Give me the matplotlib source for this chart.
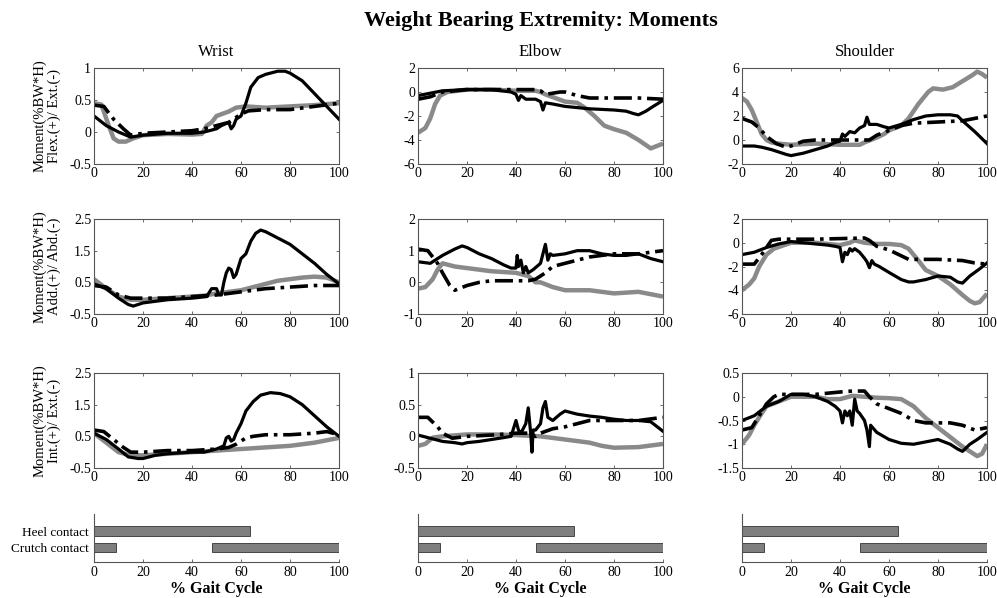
"""
Weight bearing extremity moments: 3x3 grid of moment curves over the gait cycle
plus heel / crutch contact bars underneath each column.
"""

import numpy as np
import matplotlib
matplotlib.use("Agg")
import matplotlib.pyplot as plt

plt.rcParams["font.family"] = ["Liberation Serif", "DejaVu Serif"]

# ── Data (x = % gait cycle, y = moment %BW*H) ────────────────────────────────

# Row 1: Flex.(+)/Ext.(-)
wrist_fe_gray = [(0, .45), (3, .43), (6, .1), (8, -.1), (10, -.15), (13, -.15), (16, -.1),
                 (20, -.05), (30, -.03), (40, -.04), (44, -.03), (46, .1), (48, .15), (50, .25),
                 (55, .32), (58, .38), (62, .4), (70, .38), (80, .4), (90, .42), (100, .45)]
wrist_fe_solid = [(0, .25), (5, .1), (10, 0), (15, -.08), (20, -.05), (30, -.02), (40, -.02),
                  (45, 0), (50, .05), (52, .1), (55, .15), (56, .05), (57, .1), (58, .2), (60, .25),
                  (62, .45), (64, .7), (67, .85), (70, .9), (75, .95), (78, .95), (80, .92),
                  (85, .8), (90, .6), (95, .4), (100, .2)]
wrist_fe_dash = [(0, .42), (4, .4), (8, .2), (12, .05), (15, -.05), (20, -.02), (30, 0), (40, .02),
                 (45, .05), (50, .1), (55, .15), (60, .28), (63, .33), (70, .35), (80, .35),
                 (90, .4), (100, .45)]

elbow_fe_gray = [(0, -3.4), (3, -3.0), (5, -2.2), (7, -1.0), (9, -.3), (12, 0), (20, .2), (30, .2),
                 (40, .1), (48, .1), (50, 0), (52, -.2), (56, -.5), (60, -.8), (65, -.9), (68, -1.3),
                 (72, -2.0), (76, -2.8), (80, -3.1), (85, -3.4), (90, -4.0), (95, -4.7), (100, -4.3)]
elbow_fe_solid = [(0, -.3), (5, -.1), (10, .1), (20, .2), (30, .2), (38, 0), (40, -.2), (41, -.7),
                  (42, -.3), (44, -.6), (48, -.6), (50, -.8), (51, -1.5), (52, -.9), (55, -1.0),
                  (60, -1.2), (70, -1.4), (80, -1.5), (85, -1.6), (88, -1.8), (90, -1.9),
                  (93, -1.6), (96, -1.2), (100, -.7)]
elbow_fe_dash = [(0, -.6), (5, -.4), (10, 0), (20, .2), (30, .2), (40, .2), (48, .2), (50, .1),
                 (52, -.2), (55, -.1), (58, 0), (60, 0), (65, -.3), (70, -.5), (80, -.5),
                 (90, -.5), (100, -.6)]

shoulder_fe_gray = [(0, 3.5), (2, 3.2), (4, 2.5), (6, 1.5), (8, .5), (10, 0), (12, -.2), (15, -.3),
                    (20, -.4), (30, -.3), (40, -.4), (48, -.4), (50, -.2), (55, .2), (58, .5),
                    (60, .8), (65, 1.2), (68, 1.8), (72, 3.0), (76, 4.0), (78, 4.3), (82, 4.2),
                    (86, 4.4), (90, 4.9), (94, 5.4), (96, 5.7), (98, 5.5), (100, 5.2)]
shoulder_fe_solid = [(0, -.5), (5, -.5), (8, -.6), (12, -.8), (15, -1.0), (18, -1.2), (20, -1.3),
                     (25, -1.1), (30, -.8), (35, -.5), (38, -.2), (40, -.1), (41, .5), (42, .3),
                     (44, .7), (46, .6), (48, 1.0), (50, 1.2), (51, 1.9), (52, 1.3), (55, 1.3),
                     (58, 1.1), (60, 1.0), (65, 1.3), (70, 1.7), (75, 2.0), (80, 2.1), (85, 2.1),
                     (88, 2.0), (90, 1.6), (95, .7), (100, -.3)]
shoulder_fe_dash = [(0, 1.8), (4, 1.5), (7, 1.0), (10, .3), (14, -.3), (18, -.6), (20, -.5),
                    (25, -.1), (30, 0), (40, 0), (48, 0), (52, 0), (55, .4), (60, .8), (65, 1.2),
                    (70, 1.4), (80, 1.5), (90, 1.6), (95, 1.8), (100, 2.0)]

# Row 2: Add.(+)/Abd.(-)
wrist_aa_gray = [(0, .6), (5, .3), (10, .05), (15, -.05), (20, -.05), (30, 0), (40, .05), (45, .08),
                 (50, .15), (55, .2), (60, .25), (65, .35), (70, .45), (75, .55), (80, .6),
                 (85, .65), (90, .68), (95, .65), (100, .5)]
wrist_aa_solid = [(0, .45), (5, .3), (10, 0), (14, -.2), (16, -.25), (20, -.15), (30, -.05),
                  (40, 0), (46, .05), (48, .3), (50, .3), (51, .1), (52, .1), (53, .5), (54, .8),
                  (55, .95), (56, .9), (57, .65), (58, .75), (60, 1.25), (62, 1.4), (64, 1.8),
                  (66, 2.05), (68, 2.15), (70, 2.1), (75, 1.9), (80, 1.7), (85, 1.4), (90, 1.1),
                  (95, .75), (100, .45)]
wrist_aa_dash = [(0, .4), (5, .35), (10, .1), (15, 0), (20, 0), (30, 0), (40, .05), (50, .1),
                 (55, .15), (60, .2), (70, .3), (80, .35), (90, .4), (100, .4)]

elbow_aa_gray = [(0, -.2), (3, -.15), (6, .1), (8, .4), (10, .6), (15, .5), (20, .45), (30, .35),
                 (40, .3), (45, .2), (48, 0), (50, 0), (55, -.15), (60, -.25), (70, -.25),
                 (80, -.35), (90, -.3), (100, -.45)]
elbow_aa_solid = [(0, .65), (5, .6), (10, .85), (15, 1.05), (18, 1.15), (20, 1.1), (25, .9),
                  (30, .75), (35, .55), (38, .45), (40, .45), (40.5, .85), (41, .5), (42, .7),
                  (43, .3), (44, .5), (45, .3), (47, .4), (50, .6), (51, .9), (52, 1.2), (53, .7),
                  (54, .9), (55, .85), (60, .9), (65, 1.0), (70, 1.0), (75, .9), (80, .85),
                  (85, .85), (90, .9), (95, .75), (100, .65)]
elbow_aa_dash = [(0, 1.05), (4, 1.0), (8, .6), (10, .3), (13, -.1), (15, -.25), (20, -.1), (25, 0),
                 (30, .05), (40, .05), (45, .05), (48, .1), (52, .3), (55, .5), (60, .6), (65, .7),
                 (70, .8), (75, .85), (80, .9), (90, .9), (100, 1.0)]

shoulder_aa_gray = [(0, -4.0), (3, -3.5), (5, -3.0), (7, -2.0), (10, -1.0), (13, -.5), (20, 0),
                    (30, 0), (40, -.2), (44, 0), (46, .2), (50, 0), (55, -.1), (60, -.1), (65, -.2),
                    (68, -.5), (72, -1.5), (75, -2.3), (80, -2.8), (85, -3.5), (90, -4.4),
                    (93, -4.9), (95, -5.1), (97, -5.0), (100, -4.3)]
shoulder_aa_solid = [(0, -1.0), (5, -.8), (10, -.4), (15, -.1), (20, .1), (25, 0), (30, -.1),
                     (35, -.2), (38, -.3), (40, -.4), (41, -1.6), (42, -.8), (43, -1.0), (44, -.5),
                     (45, -.7), (46, -.5), (48, -.8), (50, -1.3), (51, -1.6), (52, -2.1),
                     (53, -1.5), (54, -1.8), (56, -2.0), (60, -2.5), (65, -3.1), (68, -3.3),
                     (70, -3.3), (75, -3.1), (80, -2.8), (85, -2.9), (88, -3.3), (90, -3.4),
                     (93, -2.8), (97, -2.2), (100, -1.7)]
shoulder_aa_dash = [(0, -1.8), (5, -1.8), (8, -1.0), (12, .2), (15, .3), (20, .3), (30, .3),
                    (40, .35), (50, .4), (52, .2), (55, -.3), (60, -.6), (65, -1.1), (68, -1.4),
                    (75, -1.4), (80, -1.4), (90, -1.5), (95, -1.7), (100, -1.8)]

# Row 3: Int.(+)/Ext.(-)
wrist_ie_gray = [(0, .6), (5, .3), (10, 0), (15, -.1), (20, -.1), (30, -.05), (40, 0), (50, .05),
                 (60, .1), (70, .15), (80, .2), (90, .3), (100, .45)]
wrist_ie_solid = [(0, .6), (5, .4), (10, .1), (14, -.15), (18, -.2), (20, -.2), (25, -.1),
                  (30, -.05), (40, 0), (45, 0), (50, .1), (53, .2), (54, .45), (55, .5), (56, .35),
                  (57, .4), (58, .6), (60, .9), (62, 1.3), (65, 1.6), (68, 1.8), (72, 1.88),
                  (76, 1.85), (80, 1.75), (85, 1.5), (90, 1.15), (95, .8), (100, .5)]
wrist_ie_dash = [(0, .7), (4, .65), (8, .4), (12, .15), (15, 0), (20, 0), (30, .05), (40, .05),
                 (50, .1), (55, .15), (58, .25), (62, .45), (65, .5), (70, .55), (80, .55),
                 (90, .6), (95, .65), (100, .55)]

elbow_ie_gray = [(0, -.15), (3, -.12), (6, -.02), (10, 0), (20, .03), (30, .03), (40, .02),
                 (50, 0), (60, -.05), (70, -.1), (75, -.15), (80, -.18), (90, -.17), (100, -.12)]
elbow_ie_solid = [(0, .02), (5, -.03), (10, -.08), (15, -.1), (18, -.12), (20, -.1), (25, -.08),
                  (30, -.05), (35, -.02), (38, 0), (40, .25), (41, .1), (42, .05), (44, .2),
                  (45, .45), (46, .05), (46.5, -.25), (47, .1), (48, .1), (50, .2), (51, .45),
                  (52, .55), (53, .3), (55, .25), (58, .35), (60, .4), (65, .35), (70, .32),
                  (75, .3), (80, .27), (85, .25), (90, .25), (95, .23), (100, .08)]
elbow_ie_dash = [(0, .3), (4, .3), (8, .15), (10, .05), (14, -.03), (20, 0), (30, .02), (40, .05),
                 (45, .05), (48, 0), (50, .05), (55, .12), (60, .15), (65, .2), (70, .25),
                 (80, .25), (90, .25), (100, .3)]

shoulder_ie_gray = [(0, -1.0), (3, -.8), (5, -.6), (8, -.35), (10, -.2), (15, -.1), (20, 0),
                    (25, 0), (30, 0), (35, -.05), (40, -.05), (45, .02), (50, 0), (55, -.02),
                    (60, -.03), (65, -.05), (70, -.2), (75, -.45), (80, -.65), (85, -.85),
                    (90, -1.05), (93, -1.15), (96, -1.25), (98, -1.2), (100, -1.0)]
shoulder_ie_solid = [(0, -.5), (5, -.4), (10, -.2), (15, -.1), (20, .05), (25, .05), (30, 0),
                     (35, -.1), (38, -.2), (40, -.3), (41, -.55), (42, -.3), (43, -.4), (44, -.3),
                     (45, -.6), (46, -.05), (47, -.3), (48, -.35), (50, -.5), (51, -.7),
                     (52, -1.05), (52.5, -.6), (55, -.75), (60, -.9), (65, -.98), (70, -1.0),
                     (75, -.95), (80, -.9), (85, -1.0), (88, -1.1), (90, -1.15), (93, -1.0),
                     (96, -.9), (100, -.75)]
shoulder_ie_dash = [(0, -.7), (4, -.65), (7, -.4), (10, -.15), (13, 0), (15, .05), (20, .05),
                    (30, .05), (40, .1), (45, .12), (50, .12), (52, 0), (55, -.15), (60, -.25),
                    (65, -.35), (70, -.5), (75, -.55), (80, -.55), (85, -.55), (90, -.6),
                    (95, -.7), (100, -.65)]

# Contact phases (start, end) in % gait cycle
heel_contact = [(0, 63.5)]
crutch_contact = [(0, 9), (48, 100)]

joints = ["Wrist", "Elbow", "Shoulder"]
row_labels = ["Moment(%BW*H)\nFlex.(+)/ Ext.(-)",
              "Moment(%BW*H)\nAdd.(+)/ Abd.(-)",
              "Moment(%BW*H)\nInt.(+)/ Ext.(-)"]

panels = [
    [(wrist_fe_gray, wrist_fe_solid, wrist_fe_dash),
     (elbow_fe_gray, elbow_fe_solid, elbow_fe_dash),
     (shoulder_fe_gray, shoulder_fe_solid, shoulder_fe_dash)],
    [(wrist_aa_gray, wrist_aa_solid, wrist_aa_dash),
     (elbow_aa_gray, elbow_aa_solid, elbow_aa_dash),
     (shoulder_aa_gray, shoulder_aa_solid, shoulder_aa_dash)],
    [(wrist_ie_gray, wrist_ie_solid, wrist_ie_dash),
     (elbow_ie_gray, elbow_ie_solid, elbow_ie_dash),
     (shoulder_ie_gray, shoulder_ie_solid, shoulder_ie_dash)],
]

y_limits = [[(-0.5, 1), (-6, 2), (-2, 6)],
            [(-0.5, 2.5), (-1, 2), (-6, 2)],
            [(-0.5, 2.5), (-0.5, 1), (-1.5, 0.5)]]
y_ticks = [[[-0.5, 0, 0.5, 1], [-6, -4, -2, 0, 2], [-2, 0, 2, 4, 6]],
           [[-0.5, 0.5, 1.5, 2.5], [-1, 0, 1, 2], [-6, -4, -2, 0, 2]],
           [[-0.5, 0.5, 1.5, 2.5], [-0.5, 0, 0.5, 1], [-1.5, -1, -0.5, 0, 0.5]]]

# ── Layout (pixel boxes) ─────────────────────────────────────────────────────
W, H = 997, 598
col_left = [94, 418, 742]
col_width = 245
row_box = [(68, 164), (219, 314), (373, 468)]
gantt_box = (514, 562)

GRAY = "#8a8a8a"
SPINE = "#555555"
TICK_FS = 10


def fmt(v):
    return f"{v:g}"


def style_axes(ax):
    for s in ax.spines.values():
        s.set_color(SPINE)
        s.set_linewidth(0.8)
    ax.tick_params(direction="in", length=2.5, width=0.6, color=SPINE,
                   labelsize=TICK_FS, pad=2, top=True, right=True)


fig = plt.figure(figsize=(W / 100, H / 100), dpi=100)

for r in range(3):
    top, bot = row_box[r]
    for c in range(3):
        ax = fig.add_axes([col_left[c] / W, 1 - bot / H, col_width / W, (bot - top) / H])
        gray, solid, dash = (np.array(s) for s in panels[r][c])
        ax.plot(gray[:, 0], gray[:, 1], color=GRAY, lw=3.2, solid_capstyle="butt")
        ax.plot(dash[:, 0], dash[:, 1], color="black", lw=2.6,
                linestyle=(0, (5, 1.6, 1, 1.6)))
        ax.plot(solid[:, 0], solid[:, 1], color="black", lw=2.3)
        ax.set_xlim(0, 100)
        ax.set_ylim(*y_limits[r][c])
        ax.set_xticks(range(0, 101, 20))
        ax.set_yticks(y_ticks[r][c])
        ax.set_yticklabels([fmt(v) for v in y_ticks[r][c]])
        style_axes(ax)
        if r == 0:
            fig.text((col_left[c] + col_width / 2) / W, 1 - 52 / H, joints[c],
                     ha="center", va="center", fontsize=12)
    fig.text(47 / W, 1 - (top + bot) / 2 / H, row_labels[r], rotation=90,
             ha="center", va="center", fontsize=10.5, linespacing=1.1)

# ── Contact bars ─────────────────────────────────────────────────────────────
for c in range(3):
    top, bot = gantt_box
    ax = fig.add_axes([col_left[c] / W, 1 - bot / H, col_width / W, (bot - top) / H])
    for start, end in heel_contact:
        ax.barh(3.2, end - start, left=start, height=1.0, color="#7f7f7f",
                edgecolor="#333333", linewidth=0.6)
    for start, end in crutch_contact:
        ax.barh(1.5, end - start, left=start, height=1.0, color="#7f7f7f",
                edgecolor="#333333", linewidth=0.6)
    ax.set_xlim(0, 100)
    ax.set_ylim(0, 5)
    ax.set_xticks(range(0, 101, 20))
    ax.set_yticks([1.5, 3.2])
    if c == 0:
        ax.set_yticklabels(["Crutch contact", "Heel contact"])
    else:
        ax.set_yticklabels([])
    for side in ("top", "right"):
        ax.spines[side].set_visible(False)
    for side in ("left", "bottom"):
        ax.spines[side].set_color(SPINE)
        ax.spines[side].set_linewidth(0.8)
    ax.tick_params(axis="x", direction="in", length=2.5, width=0.6, color=SPINE,
                   labelsize=TICK_FS, pad=3)
    ax.tick_params(axis="y", length=0, labelsize=9.5, pad=4)
    fig.text((col_left[c] + col_width / 2) / W, 1 - 589 / H, "% Gait Cycle",
             ha="center", va="center", fontsize=11.5, fontweight="bold")

fig.text(541 / W, 1 - 21 / H, "Weight Bearing Extremity: Moments",
         ha="center", va="center", fontsize=16, fontweight="bold")

fig.savefig("out.png", dpi=100)
